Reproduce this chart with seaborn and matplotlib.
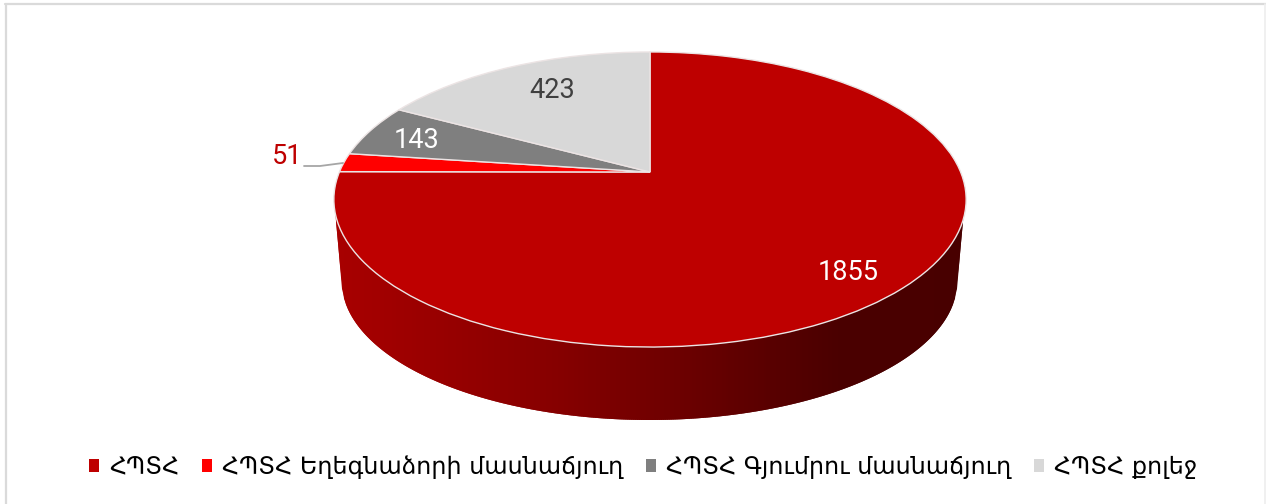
import numpy as np
import matplotlib
matplotlib.use("Agg")
import matplotlib.pyplot as plt
from matplotlib.transforms import Transform
from matplotlib.colors import LinearSegmentedColormap
from matplotlib.collections import PolyCollection
from matplotlib.lines import Line2D
import seaborn as sns

categories = ["ՀՊՏՀ", "ՀՊՏՀ Եղեգնաձորի մասնաճյուղ", "ՀՊՏՀ Գյումրու մասնաճյուղ", "ՀՊՏՀ քոլեջ"]
values = [1855, 51, 143, 423]
slice_colors = ["#BE0000", "#FF0000", "#7F7F7F", "#D8D8D8"]
label_colors = ["white", "#BE0000", "white", "#404040"]
label_xy = [(848, 273), (287, 157), (417, 141), (552, 91)]

sns.set_theme(style="white")
LABEL_FONT = ["Roboto", "DejaVu Sans"]
LEGEND_FONT = ["DejaVu Sans"]

W, H = 1266, 504
APEX_X, APEX_Y = 650.0, 172.0
A, B, K = 310.6, 142.4, 0.1864


class Tilt(Transform):
    input_dims = 2
    output_dims = 2
    is_separable = False
    has_inverse = False

    def transform_non_affine(self, v):
        v = np.asarray(v, float)
        d = 1 + K * v[:, 1]
        return np.column_stack([APEX_X + A * v[:, 0] / d, APEX_Y - B * v[:, 1] / d])


fig = plt.figure(figsize=(W / 100, H / 100), dpi=100, facecolor="white")
ax = fig.add_axes([0, 0, 1, 1])

wedges, _ = ax.pie(values, colors=sns.color_palette(slice_colors), startangle=90,
                   counterclock=False,
                   wedgeprops=dict(edgecolor="#ece4e4", linewidth=1.0, zorder=3))
tilt = Tilt() + ax.transData
for w in wedges:
    w.set_transform(tilt)
ax.set_aspect("auto")
ax.set_xlim(0, W)
ax.set_ylim(H, 0)
ax.axis("off")

# extruded side wall of the disc
xs = np.linspace(334.0, 965.0, 316)
cx, cy, a1, b1 = 649.5, 199.5, 315.5, 147.5
cy2, a2, b2 = 281.0, 308.0, 139.0
top = cy + b1 * np.sqrt(np.clip(1 - ((xs - cx) / a1) ** 2, 0, 1))
low = cy2 + b2 * np.sqrt(np.clip(1 - ((xs - cx) / a2) ** 2, 0, 1))
wall_l = np.interp(xs, [cx - a1, cx - a2], [cy, cy2])
wall_r = np.interp(xs, [cx + a2, cx + a1], [cy2, cy])
low = np.where(xs < cx - a2, wall_l, low)
low = np.where(xs > cx + a2, wall_r, low)
cmap = LinearSegmentedColormap.from_list(
    "wall", [(0, "#A80000"), (0.35, "#860000"), (0.55, "#6C0000"), (0.8, "#4A0000"), (1, "#480000")])
polys, cols = [], []
for i in range(len(xs) - 1):
    j = min(i + 2, len(xs) - 1)
    polys.append([(xs[i], top[i] - 1), (xs[j], top[j] - 1), (xs[j], low[j]), (xs[i], low[i])])
    cols.append(cmap(i / (len(xs) - 1)))
ax.add_collection(PolyCollection(polys, facecolors=cols, edgecolors="none", zorder=1))

# value labels and leader line
for v, xy, c in zip(values, label_xy, label_colors):
    ax.text(xy[0], xy[1], str(v), color=c, fontsize=19.5, family=LABEL_FONT, weight="normal",
            ha="center", va="center", zorder=5)
ax.plot([304, 320, 343], [166, 166, 163], color="#A6A6A6", lw=1.3, zorder=4)

# legend
leg = ax.legend(wedges, categories, loc="lower center", bbox_to_anchor=(0.508, 0.05), ncol=4,
                frameon=False, prop=dict(family=LEGEND_FONT, size=17.2),
                handlelength=0.45, handleheight=0.45, handletextpad=0.42, columnspacing=0.92,
                labelcolor="#000000", borderpad=0, borderaxespad=0)
for h in leg.legend_handles:
    h.set_edgecolor("none")

# chart frame
fig.add_artist(Line2D([5.5 / W, 5.5 / W], [0, 1 - 4 / H], color="#DADADA", lw=1.6))
fig.add_artist(Line2D([5 / W, 1], [1 - 4 / H, 1 - 4 / H], color="#DADADA", lw=1.6))
fig.add_artist(Line2D([1264.5 / W, 1264.5 / W], [0, 1 - 4 / H], color="#EEEEEE", lw=1.2))

fig.savefig("out.png", dpi=100)
